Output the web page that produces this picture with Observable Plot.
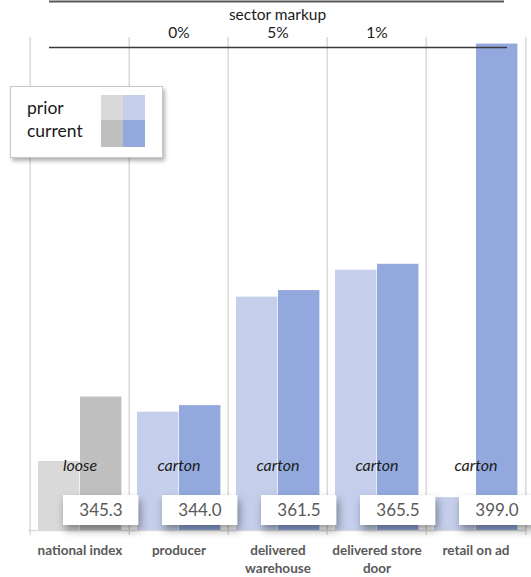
<!DOCTYPE html>
<html><head><meta charset="utf-8">
<script src="https://cdn.jsdelivr.net/npm/d3@7"></script>
<script src="https://cdn.jsdelivr.net/npm/@observablehq/plot@0.6"></script>
<style>
body{margin:0;background:#fff;font-family:Lato,"Open Sans",sans-serif;}
#wrap{position:relative;width:531px;height:577px;overflow:hidden;}
#legend{position:absolute;left:10px;top:86px;width:151px;height:70px;background:#fff;border:1px solid #c8c8c8;box-shadow:2px 3px 4px rgba(0,0,0,0.3);}
#legend .lab{position:absolute;left:16px;font-size:17.5px;color:#1a1a1a;line-height:1;}
#legend .sw{position:absolute;width:22px;}
</style>
</head><body>
<div id="wrap">
<div id="legend">
  <div class="lab" style="top:12px">prior</div>
  <div class="lab" style="top:35px">current</div>
  <div class="sw" style="left:90px;top:8px;height:25px;background:#d9d9d9"></div>
  <div class="sw" style="left:112px;top:8px;height:25px;background:#c5cfec"></div>
  <div class="sw" style="left:90px;top:33px;height:27px;background:#bfbfbf"></div>
  <div class="sw" style="left:112px;top:33px;height:27px;background:#93a9dd"></div>
</div>
</div>
<script>
const categories = ["national index", "producer", "delivered warehouse", "delivered store door", "retail on ad"];
const tickLabels = ["national index", "producer", "delivered\nwarehouse", "delivered store\ndoor", "retail on ad"];
const priorValues = [335.5, 343.0, 360.5, 364.6, 330.0];
const currentValues = [345.3, 344.0, 361.5, 365.5, 399.0];
const packaging = ["loose", "carton", "carton", "carton", "carton"];
const sectorMarkup = ["", "0%", "5%", "1%", ""];
const yDomain = [325, 400];

const grayPrior = "#d9d9d9", grayCurrent = "#bfbfbf";
const bluePrior = "#c5cfec", blueCurrent = "#93a9dd";

const rows = categories.map((c, i) => ({
  cat: c, prior: priorValues[i], current: currentValues[i],
  pack: packaging[i], markup: sectorMarkup[i], label: tickLabels[i], gray: i === 0
}));
const yBase = yDomain[0], yTop = yDomain[1];
const W = 531, H = 577, mL = 28, mR = 5, mT = 37, mB = 47;
const bw = (W - mL - mR) / categories.length;

const chart = Plot.plot({
  width: W, height: H,
  marginTop: mT, marginBottom: mB, marginLeft: mL, marginRight: mR,
  style: {fontFamily: "Lato, 'Open Sans', sans-serif", background: "white", overflow: "visible"},
  x: {type: "band", domain: categories, padding: 0, axis: null},
  y: {domain: yDomain, axis: null},
  color: {type: "identity"},
  marks: [
    Plot.ruleX(categories, {x: d => d, dx: -bw / 2, stroke: "#d9d9d9", strokeWidth: 1.5, insetBottom: -5}),
    Plot.ruleX([categories[categories.length - 1]], {x: d => d, dx: bw / 2, stroke: "#d9d9d9", strokeWidth: 1.5, insetBottom: -5}),
    Plot.ruleY([yBase], {stroke: "#d9d9d9", strokeWidth: 1.5}),
    Plot.barY(rows, {x: "cat", y1: yBase, y2: "prior", fill: d => d.gray ? grayPrior : bluePrior, insetLeft: 8, insetRight: bw - 50}),
    Plot.barY(rows, {x: "cat", y1: yBase, y2: "current", fill: d => d.gray ? grayCurrent : blueCurrent, insetLeft: 50, insetRight: bw - 92}),
    Plot.ruleY([yTop], {dy: 10, insetLeft: 21, insetRight: 19, stroke: "#3a3a3a", strokeWidth: 1.5}),
    Plot.ruleY([yTop], {dy: -36, insetLeft: 21, insetRight: 22, stroke: "#595959", strokeWidth: 2}),
    Plot.text(["sector markup"], {text: d => d, frameAnchor: "top", lineAnchor: "middle", dy: -22, fontSize: 15.5, fill: "#1a1a1a"}),
    Plot.text(rows, {x: "cat", text: "markup", frameAnchor: "top", lineAnchor: "middle", dy: -4, fontSize: 15.5, fill: "#1a1a1a"}),
    Plot.text(rows, {x: "cat", y: yBase, text: "pack", dy: -65, fontStyle: "italic", fontSize: 16, fill: "#1a1a1a"}),
    Plot.barY(rows, {x: "cat", y1: yBase, y2: yBase, insetTop: -35, insetBottom: 5, insetLeft: 33, insetRight: bw - 109, fill: "white", ariaDescription: "value-box"}),
    Plot.text(rows, {x: "cat", y: yBase, text: d => d.current.toFixed(1), dx: 21, dy: -20, fontSize: 17, fill: "#595959"}),
    Plot.text(rows, {x: "cat", y: yBase, text: "label", lineAnchor: "top", dy: 12, fontSize: 13.5, fontWeight: "bold", lineHeight: 1.3, fill: "#595959"})
  ]
});
d3.select(chart).selectAll("g[aria-description='value-box']").style("filter", "drop-shadow(2px 5px 4px rgba(0,0,0,0.4))");
const wrap = document.getElementById("wrap");
wrap.insertBefore(chart, wrap.firstChild);
chart.style.position = "absolute";
chart.style.left = "0";
chart.style.top = "0";
</script>
</body></html>
